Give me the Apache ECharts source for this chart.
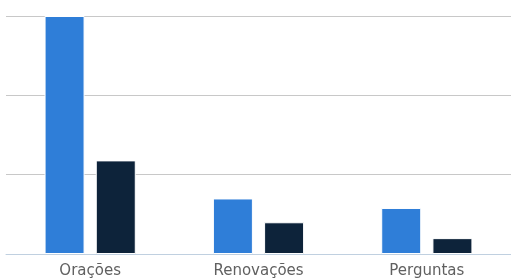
<!DOCTYPE html>
<html>
<head>
<meta charset="utf-8">
<script src="https://cdn.jsdelivr.net/npm/echarts@6/dist/echarts.min.js"></script>
<style>
html, body { margin: 0; padding: 0; background: #fff; }
#chart { width: 511px; height: 279px; }
</style>
</head>
<body>
<div id="chart"></div>
<script>
// categories and values
var categories = ['Orações', 'Renovações', 'Perguntas'];
var serieA = [150, 35, 29];
var serieB = [59, 20, 10];

var chart = echarts.init(document.getElementById('chart'));
var option = {
    animation: false,
    grid: { left: 6, right: -2, top: 16, bottom: 24 },
    xAxis: {
        type: 'category',
        data: categories,
        axisLine: { lineStyle: { color: '#C0D0E0', width: 1 } },
        axisTick: { length: 7, lineStyle: { color: '#C0D0E0' } },
        axisLabel: {
            color: '#606060',
            fontSize: 15,
            fontFamily: 'DejaVu Sans',
            margin: 10
        }
    },
    yAxis: {
        type: 'value',
        min: 0,
        max: 150,
        interval: 50,
        axisLabel: { show: false },
        axisLine: { show: false },
        axisTick: { show: false },
        splitLine: { lineStyle: { color: '#C8C8C8', width: 1 } }
    },
    series: [
        {
            type: 'bar',
            data: serieA,
            barWidth: 40,
            barGap: '28%',
            itemStyle: { color: '#2f7ed8', borderColor: '#ffffff', borderWidth: 1 }
        },
        {
            type: 'bar',
            data: serieB,
            barWidth: 40,
            itemStyle: { color: '#0d233a', borderColor: '#ffffff', borderWidth: 1 }
        }
    ]
};
chart.setOption(option);
</script>
</body>
</html>
